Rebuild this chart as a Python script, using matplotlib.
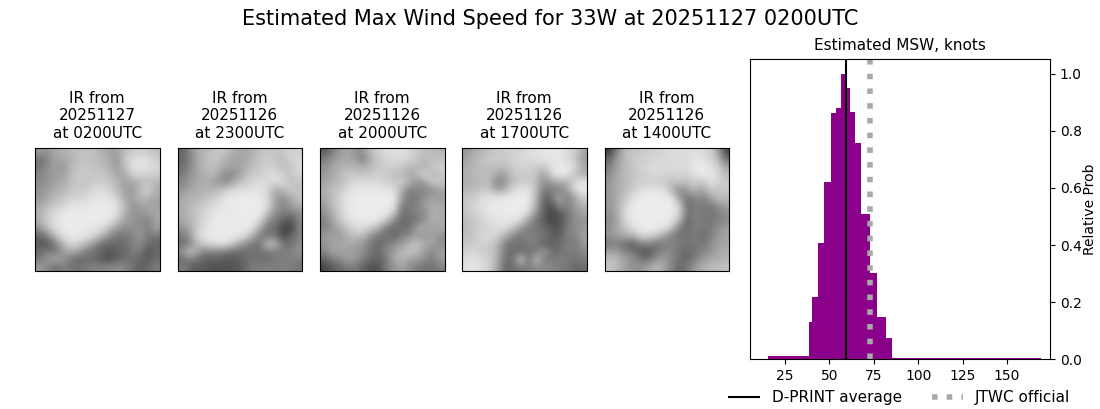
import numpy as np
import matplotlib
matplotlib.use("Agg")
import matplotlib.pyplot as plt

suptitle_text = "Estimated Max Wind Speed for 33W at 20251127 0200UTC"
image_titles = ["IR from\n20251127\nat 0200UTC", "IR from\n20251126\nat 2300UTC", "IR from\n20251126\nat 2000UTC",
                "IR from\n20251126\nat 1700UTC", "IR from\n20251126\nat 1400UTC"]

ir_0200 = [
 [160,150,175,180,190,195,200,195,185,170,165,195,205,210,205,195],
 [120,135,165,175,180,195,200,195,190,175,150,205,225,230,225,210],
 [120,140,170,150,185,200,205,200,195,180,160,195,230,235,230,220],
 [135,150,165,160,190,205,210,205,205,195,170,175,215,225,215,210],
 [140,150,165,175,195,205,200,205,210,205,185,165,175,185,195,185],
 [150,160,175,185,200,210,205,225,225,215,195,165,155,190,225,175],
 [155,170,190,200,215,215,225,230,235,235,215,170,165,195,185,170],
 [170,190,205,215,230,235,230,240,240,240,230,190,150,165,170,160],
 [180,205,225,235,240,240,240,245,240,240,230,180,155,150,165,175],
 [175,210,230,240,242,242,240,238,240,235,205,165,155,145,130,170],
 [150,190,225,238,242,240,240,235,230,200,155,145,150,150,135,165],
 [100,130,190,225,240,238,232,220,190,140,125,120,135,155,125,120],
 [ 95, 85,120,185,220,215,190,155,115,110,105,110,135,145,110,105],
 [110,130,120,150,180,165,130,115,105, 85,100,105,130,125, 85,110],
 [120,155,175,160,125,105,115,110, 95, 80,100,115,120,100, 95,115],
 [165,140,110,130,125,115,125,135,135,140,150,140,115,100,110,130]]
ir_2300 = [
 [100,140,175,190,200,205,195,170,175,180,195,205,195,205,220,210],
 [105,130,175,190,205,195,175,170,170,185,205,210,200,195,215,220],
 [110,140,170,195,195,185,170,165,170,195,205,215,205,195,205,225],
 [125,150,170,185,190,155,140,150,190,210,210,225,230,210,200,220],
 [135,155,175,175,165,150,150,185,205,215,225,220,225,225,195,205],
 [150,170,175,185,185,195,215,225,230,230,235,220,175,195,210,195],
 [170,185,185,195,205,225,240,238,242,242,240,220,160,150,175,205],
 [175,190,200,210,225,235,240,240,242,242,242,225,165,140,165,180],
 [175,190,205,220,235,240,238,240,242,242,240,200,140,130,125,150],
 [170,185,205,225,238,240,240,240,242,240,225,150,125,100, 85,140],
 [150,175,210,232,240,240,240,240,240,235,170,120,115, 65, 70,135],
 [120,150,220,235,240,240,240,238,230,180,130,120,125, 70,110,135],
 [115,135,190,215,225,235,225,185,150,125,120,205,190,120,115,145],
 [150,205,165,130,140,130,120,110,115,115,115,130,125,130,135,150],
 [110,130,120, 95,100, 95, 90, 95,105,120,115,105,130,125,135,125],
 [130,105, 90, 95, 80, 85, 85, 90,105,130,125,140,125,135,125,120]]
ir_2000 = [
 [ 90,120,160,170,150,155,195,215,225,230,230,220,205,195,190,185],
 [125,150,165,175,160,130,180,205,220,225,225,215,205,190,200,195],
 [145,165,180,185,185,175,190,205,210,215,205,190,190,175,205,215],
 [155,170,190,205,205,200,205,215,210,195,190,170,190,225,185,200],
 [165,180,190,205,225,225,225,220,210,205,210,185,150,170,215,205],
 [180,195,205,225,235,235,238,235,235,230,175,130,140,135,150,170],
 [170,190,215,235,242,242,242,242,242,240,160,120,130,150,165,160],
 [160,190,215,238,242,242,242,242,242,240,130,125,135,170,175,170],
 [145,180,210,235,240,242,242,242,240,210,110,125,135,140,185,175],
 [130,160,205,225,240,240,240,235,205,135,110,115,120,165,180,170],
 [135,150,175,200,220,225,210,175,120,110,115,115,175,170,165,175],
 [155,170,155,185,195,190,150,120,120,105,130,150,165,155,170,145],
 [150,165,170,175,170,155,120,110,120,145,160,190,200,175,165,145],
 [135,170,165,165,160,145,125,105,145,160,190,205,185,160,140,165],
 [ 95,130,140,165,160,130,105,105,120,175,190,165,165,140,130,165],
 [ 70, 90,110,120,125,100, 85, 80,130,150,165,145,125,115,120,130]]
ir_1700 = [
 [150,175,185,195,205,210,215,215,225,230,235,235,235,225,215,170],
 [165,185,195,210,210,205,215,225,225,230,235,235,240,225,205,160],
 [175,190,195,195,195,200,210,215,215,210,205,230,240,235,225,170],
 [180,190,190,195,175,160,205,205,210,200,165,220,245,240,190,180],
 [175,185,190,195,130,155,195,205,210,195,145,165,185,175,225,235],
 [190,195,200,205,165,180,225,235,235,195,125,130,130,170,225,240],
 [200,210,225,235,235,240,240,240,240,185,100,125,175,120,175,215],
 [205,220,230,235,240,242,242,245,240,180, 95, 85,150,135,160,185],
 [200,215,225,235,240,240,242,240,220,150,100, 70, 90,120,150,170],
 [195,205,215,225,235,235,235,225,165,120, 90, 70, 85,115,150,150],
 [190,205,215,220,225,225,205,155,125,125,115, 90, 85,135,140,160],
 [195,205,220,225,215,185,135,125,135,125,120,100, 95,130,135,165],
 [200,210,215,210,190,130,120,115,130,130,100,100,115,135,120,160],
 [215,220,210,205,185,125,110,110,115,120,165,110,115,125,130,140],
 [225,235,225,215,180,120,110,220,110,205,125,130,130,130,115,130],
 [230,235,225,215,170,105,110,125,130,140,145,135,130,120,105,110]]
ir_1400 = [
 [ 55,130,190,200,205,210,215,220,225,225,230,225,225,215,165, 70],
 [100,160,190,205,210,215,220,220,225,225,220,235,230,220,190,110],
 [125,165,190,205,215,220,225,225,225,225,225,240,240,230,215,165],
 [140,170,190,200,210,220,225,220,215,220,215,235,240,240,215,190],
 [150,175,190,205,210,210,210,205,195,205,195,210,205,230,225,205],
 [155,175,190,205,225,235,235,230,190,140,165,195,160,215,190,210],
 [155,175,200,230,240,242,242,242,240,160,120,140,140,165,205,190],
 [155,175,215,238,242,242,242,242,242,220,110,130,125,125,150,170],
 [150,170,225,240,242,242,242,242,240,225,115,135,125,120,130,150],
 [140,165,220,238,242,242,242,242,238,195,100,130,125,120,135,140],
 [150,175,195,225,240,242,240,235,205,125,110,135,120,125,145,165],
 [150,165,175,180,215,220,205,165,125,120,120,130,110,130,160,170],
 [120,130,110, 90,130,135,115,130,140,130,120,125,120,145,165,170],
 [170,165,140,125, 95, 85,120,140,135,120,105,120,135,150,170,180],
 [195,190,170,150,125,115,150,165,145,115,105,130,160,175,180,185],
 [205,190,165,150,150,170,195,170,135,105,125,160,180,190,195,200]]
ir_images = [ir_0200, ir_2300, ir_2000, ir_1700, ir_1400]

bin_edges = [15.2,38.4,40.1,43.5,46.8,50.8,53.6,56.4,59.2,61.5,64.3,67.7,72.8,76.7,81.8,85.2,169.3]
rel_prob = [0.012,0.13,0.22,0.407,0.62,0.861,0.879,1.0,0.949,0.865,0.756,0.508,0.302,0.148,0.075,0.005]
dprint_avg = 59.3
jtwc_official = 72.8
x_ticks = [25,50,75,100,125,150]
y_ticks = [0.0,0.2,0.4,0.6,0.8,1.0]

W, H = 1100, 409
fig = plt.figure(figsize=(W/100, H/100), dpi=100)

def box(l, t, r, b):
    return [l/W, 1-b/H, (r-l)/W, (b-t)/H]

img_boxes = [(35,147.6,159.6,271.2),(177.6,147.6,302,271.2),(320,147.6,444.6,271.2),(462,147.6,586.6,271.2),(604.6,147.6,729,271.2)]
for bx, grid, ttl in zip(img_boxes, ir_images, image_titles):
    a = fig.add_axes(box(*bx))
    a.imshow(np.array(grid), cmap="gray", vmin=0, vmax=262, interpolation="bicubic", aspect="auto")
    a.set_xticks([]); a.set_yticks([])
    a.set_title(ttl, fontsize=11, pad=7)

ax = fig.add_axes(box(750,59.4,1050,359.4))
ax.stairs(rel_prob, bin_edges, fill=True, color="darkmagenta", linewidth=0)
l1 = ax.axvline(dprint_avg, color="black", linewidth=1.5, label="D-PRINT average")
l2 = ax.axvline(jtwc_official, color="darkgray", linewidth=4, linestyle=":", label="JTWC official")
ax.set_xlim(5.2, 174.3)
ax.set_ylim(0, 1.05)
ax.set_xticks(x_ticks)
ax.set_yticks(y_ticks)
ax.yaxis.tick_right()
ax.yaxis.set_label_position("right")
ax.set_ylabel("Relative Prob", fontsize=10, labelpad=1)
ax.tick_params(labelsize=10)
ax.set_title("Estimated MSW, knots", fontsize=11, pad=7)

fig.legend(handles=[l1, l2], ncol=2, frameon=False, fontsize=11,
           loc="lower right", bbox_to_anchor=(1084/W, -10/H), columnspacing=2.0)
fig.suptitle(suptitle_text, fontsize=15, x=549.8/W, y=1-9/H, va="top")
fig.savefig("out.png", dpi=100)
